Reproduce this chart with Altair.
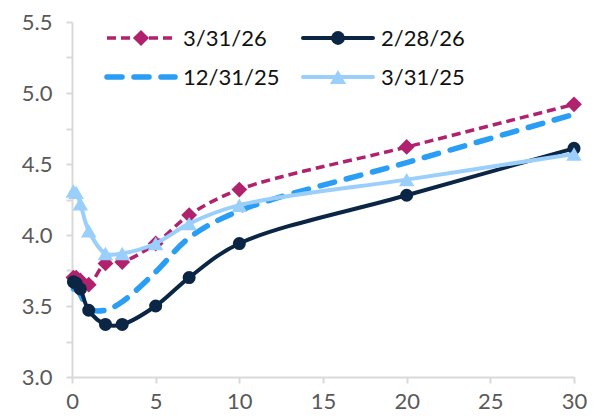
import altair as alt
import pandas as pd

maturities = [1/12, 0.25, 0.5, 1, 2, 3, 5, 7, 10, 20, 30]
series_names = ["3/31/26", "2/28/26", "12/31/25", "3/31/25"]
y_mar26 = [3.70, 3.70, 3.68, 3.65, 3.80, 3.81, 3.94, 4.14, 4.32, 4.62, 4.92]
y_feb26 = [3.67, 3.66, 3.62, 3.47, 3.37, 3.37, 3.50, 3.70, 3.94, 4.28, 4.61]
y_dec25 = [3.62, 3.62, 3.58, 3.48, 3.47, 3.53, 3.74, 3.98, 4.17, 4.51, 4.85]
y_mar25 = [4.31, 4.30, 4.22, 4.03, 3.87, 3.87, 3.94, 4.08, 4.21, 4.39, 4.57]
x_ticks = [0, 5, 10, 15, 20, 25, 30]
y_ticks = [3.0, 3.25, 3.5, 3.75, 4.0, 4.25, 4.5, 4.75, 5.0, 5.25, 5.5]

values = [y_mar26, y_feb26, y_dec25, y_mar25]
rows = []
for name, ys in zip(series_names, values):
    for m, v in zip(maturities, ys):
        rows.append({"series": name, "maturity": m, "yield": v})
df = pd.DataFrame(rows)

FONT = "Lato"
GRAY_AX = "#d9d9d9"
LABEL = "#595959"

colors = {"3/31/26": "#B0226E", "2/28/26": "#0B2545", "12/31/25": "#2A9DF4", "3/31/25": "#9ACFFB"}

x_enc = alt.X("maturity:Q", scale=alt.Scale(domain=[0, 30], nice=False, zero=False),
              axis=alt.Axis(values=x_ticks, title=None, grid=False, tickSize=6, tickWidth=2,
                            tickColor=GRAY_AX, domainColor=GRAY_AX, domainWidth=2,
                            labelFont=FONT, labelFontSize=22, labelColor=LABEL, labelPadding=8,
                            labelFlush=False))
y_enc = alt.Y("yield:Q", scale=alt.Scale(domain=[3.0, 5.5], nice=False, zero=False),
              axis=alt.Axis(values=y_ticks, title=None, grid=False, tickSize=6, tickWidth=2,
                            tickColor=GRAY_AX, domainColor=GRAY_AX, domainWidth=2,
                            labelFont=FONT, labelFontSize=22, labelColor=LABEL, labelPadding=14,
                            labelExpr="abs(datum.value*2 - round(datum.value*2)) < 0.001 ? format(datum.value, '.1f') : ''"))

base = alt.Chart(df)

def series_layer(name, dash, width, cap, shape, size):
    b = base.transform_filter(alt.datum.series == name)
    kw = dict(color=colors[name], strokeWidth=width, interpolate="catmull-rom", strokeCap=cap)
    if dash:
        kw["strokeDash"] = dash
    line = b.mark_line(**kw).encode(x=x_enc, y=y_enc)
    layers = [line]
    if shape:
        pts = b.mark_point(shape=shape, size=size, filled=True, opacity=1,
                           color=colors[name]).encode(x=x_enc, y=y_enc)
        layers.append(pts)
    return layers

layers = []
layers += series_layer("3/31/26", [9, 5], 3.5, "butt", "diamond", 250)
layers += series_layer("12/31/25", [15, 12], 5.5, "round", None, 0)
layers += series_layer("2/28/26", None, 4, "butt", "circle", 170)
layers += series_layer("3/31/25", None, 4, "butt", "triangle-up", 240)

# legend
one = pd.DataFrame({"k": [0]})
legend_spec = [
    ("3/31/26", 35, 103, 69, 111, 16, [9, 5], 3.5, "butt", "diamond", 260),
    ("2/28/26", 231, 301, 266, 309, 16, None, 4, "round", "circle", 190),
    ("12/31/25", 35, 103, None, 111, 55, [15, 12], 5.5, "round", None, 0),
    ("3/31/25", 231, 301, 266, 309, 55, None, 4, "round", "triangle-up", 260),
]
for name, x1, x2, mx, tx, ly, dash, w, cap, shape, size in legend_spec:
    kw = dict(color=colors[name], strokeWidth=w, strokeCap=cap)
    if dash:
        kw["strokeDash"] = dash
    layers.append(alt.Chart(one).mark_rule(**kw).encode(
        x=alt.value(x1), x2=alt.value(x2), y=alt.value(ly)))
    if shape:
        layers.append(alt.Chart(one).mark_point(shape=shape, size=size, filled=True, opacity=1,
                                                color=colors[name]).encode(
            x=alt.value(mx), y=alt.value(ly)))
    layers.append(alt.Chart(one).mark_text(text=name, font=FONT, fontSize=22, color="#111111",
                                           align="left", baseline="middle").encode(
        x=alt.value(tx), y=alt.value(ly + 1)))

chart = alt.layer(*layers).properties(
    width=502, height=355,
    autosize=alt.AutoSizeParams(type="none"),
    padding={"left": 72, "top": 22, "right": 24, "bottom": 42},
).configure_view(stroke=None)

chart.save("out.html", embed_options={"renderer": "svg", "actions": False})
